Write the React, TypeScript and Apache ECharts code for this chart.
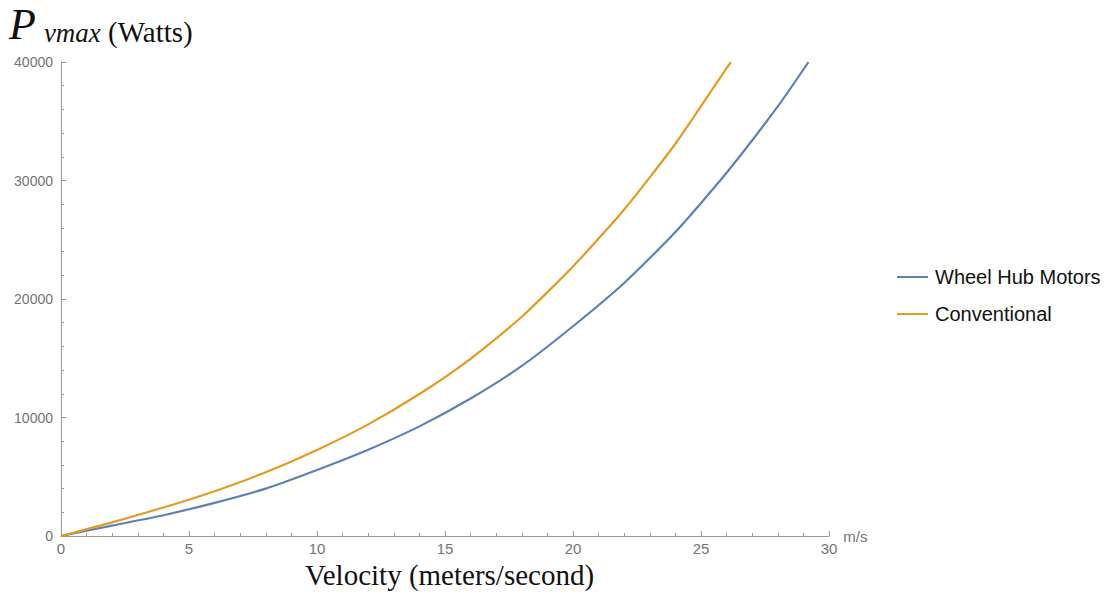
import React, { useEffect, useRef } from "react";
import * as echarts from "echarts";

const velocityHub = [0, 2, 4, 6, 8, 10, 12, 14, 16, 18, 20, 22, 24, 26, 28, 29.2];
const powerHub = [0, 880, 1750, 2800, 4000, 5570, 7280, 9250, 11600, 14350, 17700, 21350, 25650, 30650, 36250, 40000];
const velocityConv = [0, 2, 4, 6, 8, 10, 12, 14, 16, 18, 20, 22, 24, 26, 26.17];
const powerConv = [0, 1150, 2400, 3780, 5380, 7260, 9420, 11980, 14950, 18500, 22750, 27550, 33100, 39480, 40000];
const seriesNames = ["Wheel Hub Motors", "Conventional"];
const xTicks = [0, 30, 5];
const yTicks = [0, 40000, 10000];

const BLUE = "#5E81B5";
const ORANGE = "#E19C24";
const AXIS = "#9a9a9a";
const LABEL = "#737373";

export default function App() {
  const ref = useRef<HTMLDivElement>(null);
  useEffect(() => {
    if (!ref.current) return;
    const chart = echarts.init(ref.current, undefined, { renderer: "svg" });
    const axisCommon = {
      axisLine: { show: true, lineStyle: { color: AXIS, width: 1 } },
      axisTick: { show: true, inside: true, length: 5, lineStyle: { color: AXIS } },
      minorTick: { show: true, splitNumber: 5, length: 3, lineStyle: { color: AXIS } },
      splitLine: { show: false },
      minorSplitLine: { show: false },
    };
    chart.setOption({
      animation: false,
      backgroundColor: "#ffffff",
      grid: { left: 61, right: 282, top: 62, bottom: 57, containLabel: false },
      legend: {
        orient: "vertical",
        left: 892,
        top: 262,
        icon: "rect",
        itemWidth: 31,
        itemHeight: 2,
        itemGap: 17,
        textStyle: { fontFamily: "Liberation Sans", fontSize: 20, color: "#111", padding: [0, 0, 0, 2] },
        data: seriesNames,
      },
      xAxis: {
        type: "value",
        min: xTicks[0],
        max: xTicks[1],
        interval: xTicks[2],
        name: "m/s",
        nameLocation: "end",
        nameGap: 13,
        nameTextStyle: { fontFamily: "Liberation Sans", fontSize: 15, color: LABEL, verticalAlign: "middle", padding: [0, 0, 2, 0] },
        axisLabel: { fontFamily: "Liberation Sans", fontSize: 15, color: LABEL, margin: 5 },
        ...axisCommon,
      },
      yAxis: {
        type: "value",
        min: yTicks[0],
        max: yTicks[1],
        interval: yTicks[2],
        axisLabel: {
          fontFamily: "Liberation Sans",
          fontSize: 14,
          color: LABEL,
          margin: 8,
          formatter: (v: number) => String(v),
        },
        ...axisCommon,
      },
      graphic: [
        {
          type: "text",
          left: 9,
          top: 2,
          style: {
            text: "{p|P}{s|vmax}{w| (Watts)}",
            rich: {
              p: { fontFamily: "Liberation Serif", fontStyle: "italic", fontSize: 44, fill: "#111", verticalAlign: "bottom" },
              s: { fontFamily: "Liberation Serif", fontStyle: "italic", fontSize: 27, fill: "#111", verticalAlign: "bottom", padding: [0, 0, 0, 8] },
              w: { fontFamily: "Liberation Serif", fontSize: 29, fill: "#111", verticalAlign: "bottom" },
            },
          },
        },
        {
          type: "text",
          left: 305,
          top: 560,
          style: {
            text: "Velocity (meters/second)",
            fontFamily: "Liberation Serif",
            fontSize: 29,
            fill: "#111",
          },
        },
      ],
      series: [
        {
          name: seriesNames[0],
          type: "line",
          data: velocityHub.map((v, i) => [v, powerHub[i]]),
          showSymbol: false,
          symbol: "none",
          smooth: 0.2,
          lineStyle: { color: BLUE, width: 2.2 },
          itemStyle: { color: BLUE },
        },
        {
          name: seriesNames[1],
          type: "line",
          data: velocityConv.map((v, i) => [v, powerConv[i]]),
          showSymbol: false,
          symbol: "none",
          smooth: 0.2,
          lineStyle: { color: ORANGE, width: 2.2 },
          itemStyle: { color: ORANGE },
        },
      ],
    });
    return () => chart.dispose();
  }, []);
  return <div ref={ref} style={{ width: 1111, height: 593, position: "absolute", left: 0, top: 0 }} />;
}
